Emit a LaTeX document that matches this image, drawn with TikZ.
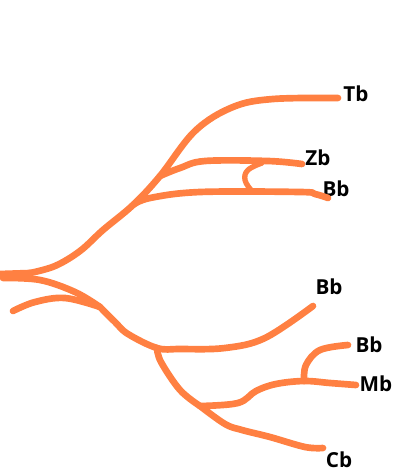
\documentclass[tikz,border=0pt]{standalone}
\usepackage{fontspec}
\setmainfont{Open Sans}
\definecolor{branch}{RGB}{255,128,66}
\tikzset{
  br/.style={draw=branch, line width=5pt, line cap=round, line join=round},
  lbl/.style={font=\fontsize{15.5}{18}\selectfont\bfseries, inner sep=0pt, text=black}
}
\begin{document}
\begin{tikzpicture}[x=0.75pt,y=-0.75pt]
\path[use as bounding box] (0,0) rectangle (397,476);
% junctions
\coordinate (root) at (30,273);
\coordinate (jA) at (133,205);
\coordinate (jB) at (160,176);
\coordinate (jC) at (100,307);
\coordinate (jD) at (157,348);
\coordinate (jE) at (200,406);
\coordinate (jF) at (304,381);
% labels
\node[lbl] (tb) at (356,94) {Tb};
\node[lbl] (zb) at (318,158) {Zb};
\node[lbl] (bb1) at (336,189) {Bb};
\node[lbl] (bb2) at (329,287) {Bb};
\node[lbl] (bb3) at (369,345) {Bb};
\node[lbl] (mb) at (376,384) {Mb};
\node[lbl] (cb) at (339,460) {Cb};
% ends
\coordinate (eT) at (338,98);
\coordinate (eZ) at (302,164);
\coordinate (eB1) at (328,198);
\coordinate (eB2) at (313,306);
\coordinate (eB3) at (348,345);
\coordinate (eM) at (356,385);
\coordinate (eC) at (323,448);
% root stubs
\draw[br] (0,274) -- (root);
\draw[br] plot[smooth,tension=0.6] coordinates {(3,278) (40,280) (75,292) (jC)};
\draw[br] plot[smooth,tension=0.6] coordinates {(13,311) (35,302) (65,298) (jC)};
% upper trunk to Tb
\draw[br] plot[smooth,tension=0.6] coordinates {(root) (55,266) (80,251) (103,230) (jA) (jB) (195,131) (233,107) (273,99) (eT)};
% Zb
\draw[br] plot[smooth,tension=0.6] coordinates {(jB) (180,168) (205,161) (268,161) (eZ)};
% small loop between Zb and Bb
\draw[br, line width=4pt] plot[smooth,tension=0.7] coordinates {(262,163) (248,170) (245,180) (251,190)};
% Bb upper
\draw[br] plot[smooth,tension=0.6] coordinates {(jA) (150,198) (200,192) (300,192) (315,194) (eB1)};
% lower main
\draw[br] plot[smooth,tension=0.6] coordinates {(jC) (115,322) (128,334) (jD) (180,349) (225,348) (265,338) (eB2)};
% down branch
\draw[br] plot[smooth,tension=0.6] coordinates {(jD) (161,362) (180,390) (jE)};
% Mb
\draw[br] plot[smooth,tension=0.6] coordinates {(jE) (238,403) (256,391) (276,384) (jF) (330,383) (eM)};
% Bb lower right
\draw[br] plot[smooth,tension=0.6] coordinates {(jF) (306,365) (320,350) (eB3)};
% Cb
\draw[br] plot[smooth,tension=0.6] coordinates {(jE) (225,424) (242,430) (270,437) (305,447) (eC)};
\end{tikzpicture}
\end{document}
